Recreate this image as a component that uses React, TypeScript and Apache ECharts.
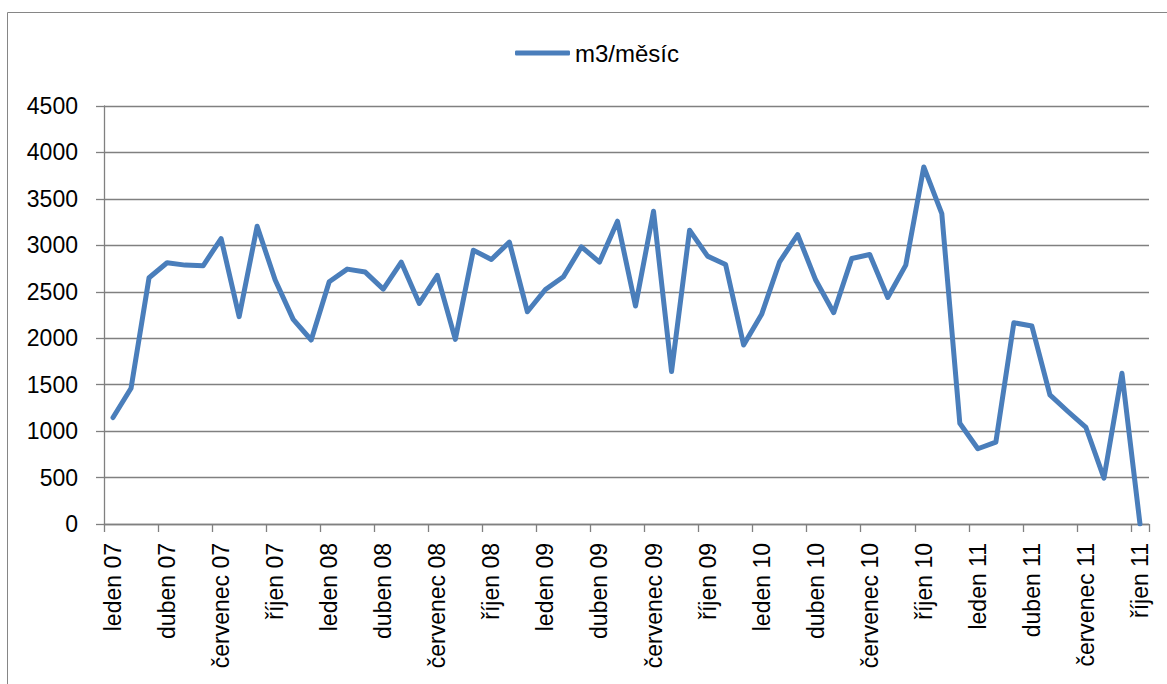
import React, { useEffect, useRef } from "react";
import * as echarts from "echarts";

const monthNames = ["leden", "únor", "březen", "duben", "květen", "červen", "červenec", "srpen", "září", "říjen", "listopad", "prosinec"];
const yearLabels = ["07", "08", "09", "10", "11"];
const monthCount = 58;

const values = [
  1146, 1461, 2651, 2812, 2787, 2780, 3073, 2232, 3206, 2626, 2203, 1981,
  2608, 2744, 2712, 2529, 2819, 2375, 2676, 1988, 2948, 2848, 3034, 2285,
  2525, 2661, 2984, 2819, 3260, 2346, 3367, 1641, 3163, 2884, 2794, 1927,
  2257, 2823, 3116, 2626, 2275, 2858, 2901, 2439, 2787, 3844, 3342, 1085,
  810, 881, 2167, 2131, 1390, 1211, 1039, 494, 1623, 0,
];

const categories: string[] = [];
for (let i = 0; i < monthCount; i++) {
  categories.push(`${monthNames[i % 12]} ${yearLabels[Math.floor(i / 12)]}`);
}

const seriesName = "m3/měsíc";
const font = "Liberation Sans";
const gray = "#808080";

export default function App() {
  const ref = useRef<HTMLDivElement>(null);
  useEffect(() => {
    if (!ref.current) return;
    const chart = echarts.init(ref.current, undefined, { renderer: "svg" });
    chart.setOption({
      animation: false,
      backgroundColor: "#ffffff",
      graphic: [
        {
          type: "rect",
          shape: { x: 7.5, y: 12.5, width: 1200, height: 720 },
          style: { fill: "none", stroke: "#868686", lineWidth: 1 },
          silent: true,
        },
      ],
      legend: {
        left: 510,
        top: 36,
        icon: "roundRect",
        itemWidth: 55,
        itemHeight: 5,
        textStyle: { fontFamily: font, fontSize: 24, color: "#000" },
        data: [seriesName],
      },
      grid: { left: 104, right: 18, top: 106, bottom: 160, containLabel: false },
      xAxis: {
        type: "category",
        data: categories,
        boundaryGap: true,
        axisLine: { lineStyle: { color: gray, width: 1.3 } },
        axisTick: { show: true, interval: 2, length: 8, lineStyle: { color: gray, width: 1.3 } },
        axisLabel: {
          interval: 2,
          rotate: 90,
          margin: 19,
          fontFamily: font,
          fontSize: 23,
          color: "#000",
        },
        splitLine: { show: false },
      },
      yAxis: {
        type: "value",
        min: 0,
        max: 4500,
        interval: 500,
        axisLine: { show: true, lineStyle: { color: gray, width: 1.3 } },
        axisTick: { show: true, length: 8, lineStyle: { color: gray, width: 1.3 } },
        axisLabel: {
          margin: 26,
          fontFamily: font,
          fontSize: 23,
          color: "#000",
          formatter: (v: number) => String(v),
        },
        splitLine: { show: true, lineStyle: { color: gray, width: 1.3 } },
      },
      series: [
        {
          name: seriesName,
          type: "line",
          data: values,
          symbol: "none",
          color: "#4A7EBB",
          lineStyle: { width: 5, color: "#4A7EBB", join: "round", cap: "round" },
        },
      ],
    });
    return () => chart.dispose();
  }, []);
  return <div ref={ref} style={{ position: "fixed", left: 0, top: 0, width: 1167, height: 684 }} />;
}
